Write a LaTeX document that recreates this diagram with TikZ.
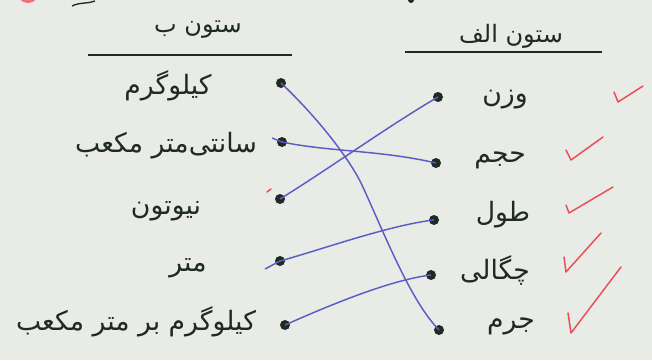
\documentclass[tikz,border=0pt]{standalone}
\usepackage{fontspec}
\newfontfamily\arabicfont[Script=Arabic]{DejaVu Sans}
\TeXXeTstate=1
\definecolor{paper}{HTML}{E9EBE7}
\definecolor{ink}{HTML}{1E2A22}
\definecolor{pen}{HTML}{5A5EC4}
\definecolor{redpen}{HTML}{EE4B55}
\tikzset{
  dot/.style={circle,fill=ink,inner sep=0pt,minimum size=7.5pt},
  lbl/.style={text=ink,font=\arabicfont\fontsize{20}{23}\selectfont,inner sep=1pt},
  head/.style={text=ink,font=\arabicfont\fontsize{18}{21}\selectfont,inner sep=1pt},
  link/.style={pen,line width=1.1pt},
  tick/.style={redpen,line width=1.1pt,line cap=round,line join=round},
  rule/.style={ink,line width=1.3pt}
}
\begin{document}
\begin{tikzpicture}[x=0.75pt,y=-0.75pt]
\fill[paper] (0,0) rectangle (652,360);
\useasboundingbox (0,0) rectangle (652,360);
% top fragments
\fill[redpen!80] (28,-8) circle[radius=11];
\draw[ink,line width=1pt] (72,6) .. controls (80,2) and (88,4) .. (95,1);
\fill[ink] (411,0) circle[radius=3];
% headings
\node[head] (hb) at (198,30) {\beginR ستون ب\endR};
\draw[rule] (88,55) -- (292,55);
\node[head] (ha) at (511,36) {\beginR ستون الف\endR};
\draw[rule] (405,52) -- (602,52);
% left labels
\node[lbl] (t1) at (168,86) {\beginR کیلوگرم\endR};
\node[lbl] (t2) at (166,146) {\beginR سانتی‌متر مکعب\endR};
\node[lbl] (t3) at (166,211) {\beginR نیوتون\endR};
\node[lbl] (t4) at (188,268) {\beginR متر\endR};
\node[lbl] (t5) at (136,322) {\beginR کیلوگرم بر متر مکعب\endR};
% right labels
\node[lbl] (u1) at (505,100) {\beginR وزن\endR};
\node[lbl] (u2) at (500,160) {\beginR حجم\endR};
\node[lbl] (u3) at (503,215) {\beginR طول\endR};
\node[lbl] (u4) at (495,270) {\beginR چگالی\endR};
\node[lbl] (u5) at (511,326) {\beginR جرم\endR};
% dots
\node[dot] (l1) at (281,83) {};
\node[dot] (l2) at (282,142) {};
\node[dot] (l3) at (280,199) {};
\node[dot] (l4) at (280,261) {};
\node[dot] (l5) at (285,325) {};
\node[dot] (r1) at (438,97) {};
\node[dot] (r2) at (436,163) {};
\node[dot] (r3) at (434,220) {};
\node[dot] (r4) at (431,275) {};
\node[dot] (r5) at (439,330) {};
\coordinate (s2) at (272,138);
\coordinate (s4) at (265,269);
% links
\draw[link] (l1.center) .. controls (320,120) and (350,160) .. (362,185) .. controls (385,235) and (410,300) .. (r5.center);
\draw[link] (s2) -- (l2.center) .. controls (330,152) and (380,150) .. (r2.center);
\draw[link] (l3.center) .. controls (330,168) and (390,125) .. (r1.center);
\draw[link] (s4) -- (l4.center) .. controls (320,250) and (390,225) .. (r3.center);
\draw[link] (l5.center) .. controls (330,305) and (390,280) .. (r4.center);
% red ticks
\draw[tick] (267,192) -- (271,189);
\draw[tick] (614,92) -- (618,102) -- (643,86);
\draw[tick] (566,150) -- (571,160) -- (603,137);
\draw[tick] (566,205) -- (569,213) -- (613,187);
\draw[tick] (564,257) -- (566,272) -- (601,233);
\draw[tick] (568,313) -- (571,333) -- (621,267);
\end{tikzpicture}
\end{document}
